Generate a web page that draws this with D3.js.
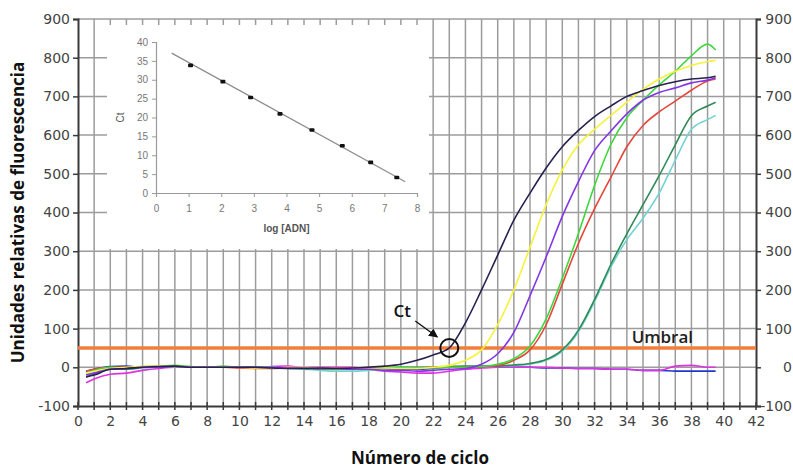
<!DOCTYPE html>
<html>
<head>
<meta charset="utf-8">
<script src="https://cdn.jsdelivr.net/npm/d3@7"></script>
<style>
  body { margin: 0; background: #fff; }
  svg { display: block; }
  text { font-family: "DejaVu Sans", Verdana, sans-serif; }
  .tick-label { font-size: 14px; fill: #444; }
  .title { font-family: "Open Sans", sans-serif; font-weight: bold; font-size: 17px; fill: #111; }
  .inset-label { font-family: Arial, "Liberation Sans", sans-serif; font-size: 10px; fill: #777; }
</style>
</head>
<body>
<div id="chart"></div>
<script>
// ciclos en los que se midio la fluorescencia
var cycles = [0.5, 1, 2, 3, 4, 5, 6, 7, 8, 9, 10, 11, 12, 13, 14, 15, 16, 17, 18, 19, 20,
  21, 22, 23, 24, 25, 26, 27, 28, 29, 30, 31, 32, 33, 34, 35, 36, 37, 38, 39, 39.5]

var navy = [-25, -20, -5, -3, 0, 2, 3, 0, 0, 0, 0, 0, -2, -3, -3, -2, -3, -2, 0, 3, 8,
  18, 32, 50, 115, 200, 290, 380, 450, 515, 570, 612, 648, 675, 700, 715, 728, 738, 745, 748, 752]
var yellow = [-15, -10, -3, 0, 2, 3, 2, 0, 0, 0, 0, -2, -2, 0, 0, -2, -3, -3, -2, -2, -3,
  -3, 0, 5, 18, 45, 110, 200, 310, 420, 510, 575, 615, 650, 685, 718, 745, 765, 780, 790, 793]
var purple = [-20, -15, -5, -3, 0, 0, 2, 0, 0, 0, 0, 0, 0, -2, -2, -3, -3, -5, -5, -8, -8,
  -10, -8, -5, -3, 8, 35, 90, 185, 285, 390, 480, 560, 610, 655, 690, 710, 722, 735, 742, 748]
var green = [-15, -8, 0, -2, 2, 3, 5, 2, 0, 3, 0, 0, 0, -2, -2, -3, -5, -3, -2, 0, 0,
  -2, -2, 0, 0, 2, 8, 22, 55, 125, 230, 346, 470, 575, 645, 690, 730, 765, 805, 835, 820]
var red = [-10, -5, 0, 0, 0, 2, 2, 0, 0, 0, -2, -3, -3, -2, -2, -3, -3, -2, 0, 0, -2,
  -2, 0, 0, 0, 2, 5, 18, 45, 110, 215, 320, 410, 490, 570, 625, 660, 688, 716, 740, 745]
var darkGreen = [-25, -18, -5, -5, 0, 2, 3, 0, 0, 0, 0, 0, -2, -2, -3, -5, -5, -5, -3, -2, 0,
  0, 0, 2, 3, 3, 3, 6, 10, 20, 45, 96, 175, 265, 345, 420, 495, 575, 650, 675, 685]
var cyan = [-20, -15, -3, -5, -2, 0, 0, 0, 0, 0, 0, 0, 0, -3, -5, -8, -10, -10, -8, -5, -3,
  -3, 0, 0, 2, 2, 3, 5, 8, 18, 42, 92, 170, 258, 330, 385, 450, 535, 615, 640, 651]
var blue = [-10, -5, 2, 3, 0, 0, 2, 0, 0, 0, 0, 0, 0, 0, -3, -5, -5, -5, -3, -5, -5,
  -5, -3, 0, 0, 0, 2, 0, 0, -2, -2, -3, -3, -5, -5, -8, -8, -10, -10, -10, -10]
var magenta = [-40, -30, -18, -15, -8, -3, 0, 0, 0, 0, 0, 0, 2, 3, 0, 0, 0, 0, -5, -10, -12,
  -15, -15, -10, -5, -2, 0, 0, 0, 0, -2, -3, -3, -5, -5, -8, -8, 3, 5, 0, 0]

var threshold = 50
var ctCycle = 23

// recuadro: curva estandar
var logDNA = [1.06, 2.05, 2.9, 3.8, 4.78, 5.71, 6.58, 7.38]
var ctValues = [33.8, 29.5, 25.3, 20.95, 16.7, 12.5, 8.1, 4.1]
var fitX = [0.48, 7.64]
var fitY = [37.05, 3.0]

var xTicks = [0, 2, 4, 6, 8, 10, 12, 14, 16, 18, 20, 22, 24, 26, 28, 30, 32, 34, 36, 38, 40, 42]
var yTicks = [-100, 0, 100, 200, 300, 400, 500, 600, 700, 800, 900]
var insetXTicks = [0, 1, 2, 3, 4, 5, 6, 7, 8]
var insetYTicks = [0, 5, 10, 15, 20, 25, 30, 35, 40]

var series = [
  {values: blue, color: '#2436d0'},
  {values: magenta, color: '#e032e0'},
  {values: cyan, color: '#72d2d0'},
  {values: darkGreen, color: '#2e8b57'},
  {values: red, color: '#e6463c'},
  {values: green, color: '#3ed83e'},
  {values: yellow, color: '#f6f23a'},
  {values: purple, color: '#8236e6'},
  {values: navy, color: '#2a2050'}
]

var width = 793, height = 469
var svg = d3.select('#chart').append('svg').attr('width', width).attr('height', height)

var x = d3.scaleLinear().domain([0, 42]).range([78, 756])
var y = d3.scaleLinear().domain([-100, 900]).range([406, 19])
var plain = d => String(d)

// rejilla
var grid = svg.append('g')
grid.selectAll('line.v').data(d3.range(1, 42)).join('line')
  .attr('x1', d => x(d)).attr('x2', d => x(d))
  .attr('y1', y(900)).attr('y2', y(-100))
  .attr('stroke', '#9c9c9c').attr('stroke-width', 1.5)
grid.selectAll('line.h').data(yTicks.slice(1)).join('line')
  .attr('x1', x(0)).attr('x2', x(42))
  .attr('y1', d => y(d)).attr('y2', d => y(d))
  .attr('stroke', '#9c9c9c').attr('stroke-width', 1.5)

// ejes
var axisColor = '#3a3a3a'
var left = svg.append('g').attr('transform', 'translate(' + x(0) + ',0)')
  .call(d3.axisLeft(y).tickValues(yTicks).tickFormat(plain).tickSize(5).tickPadding(3))
var right = svg.append('g').attr('transform', 'translate(' + x(42) + ',0)')
  .call(d3.axisRight(y).tickValues(yTicks).tickFormat(plain).tickSize(5).tickPadding(4))
var bottom = svg.append('g').attr('transform', 'translate(0,' + y(-100) + ')')
  .call(d3.axisBottom(x).tickValues(xTicks).tickFormat(plain).tickSize(0).tickPadding(10))
bottom.selectAll('.minor').data(d3.range(0, 43)).join('line')
  .attr('class', 'minor')
  .attr('x1', d => x(d)).attr('x2', d => x(d))
  .attr('y1', -4).attr('y2', 4)
  .attr('stroke', axisColor).attr('stroke-width', 1.5)

;[left, right, bottom].forEach(function(g){
  g.select('.domain').attr('stroke', axisColor).attr('stroke-width', 2)
  g.selectAll('.tick line').attr('stroke', axisColor).attr('stroke-width', 1.5)
  g.selectAll('.tick text').attr('class', 'tick-label')
  g.attr('font-size', null).attr('font-family', null)
})
// etiquetas derechas alineadas al borde
right.selectAll('.tick text').attr('text-anchor', 'end').attr('x', width - 1 - x(42))

// curvas de amplificacion
var line = d3.line()
  .x((d, i) => x(cycles[i]))
  .y(d => y(d))
  .curve(d3.curveMonotoneX)

svg.append('line')
  .attr('x1', x(0)).attr('x2', x(42))
  .attr('y1', y(threshold)).attr('y2', y(threshold))
  .attr('stroke', '#f07f3c').attr('stroke-width', 3.5)

svg.append('g').selectAll('path').data(series).join('path')
  .attr('d', d => line(d.values))
  .attr('fill', 'none')
  .attr('stroke', d => d.color)
  .attr('stroke-width', 1.6)

// Ct
svg.append('circle')
  .attr('cx', x(ctCycle)).attr('cy', y(threshold)).attr('r', 9)
  .attr('fill', 'none').attr('stroke', '#111').attr('stroke-width', 2)

svg.append('defs').append('marker')
  .attr('id', 'arrow').attr('viewBox', '0 0 10 10')
  .attr('refX', 9).attr('refY', 5)
  .attr('markerWidth', 7).attr('markerHeight', 7)
  .attr('orient', 'auto-start-reverse')
  .append('path').attr('d', 'M0,0L10,5L0,10z').attr('fill', '#111')

svg.append('line')
  .attr('x1', x(ctCycle) - 34).attr('y1', y(threshold) - 27)
  .attr('x2', x(ctCycle) - 12).attr('y2', y(threshold) - 11)
  .attr('stroke', '#111').attr('stroke-width', 1.3)
  .attr('marker-end', 'url(#arrow)')

svg.append('text')
  .attr('x', x(ctCycle) - 47).attr('y', y(threshold) - 31)
  .attr('text-anchor', 'middle')
  .style('font-family', 'Open Sans, sans-serif').style('font-size', '17px')
  .style('font-weight', 600).style('fill', '#111')
  .text('Ct')

svg.append('text')
  .attr('x', x(36.2)).attr('y', y(threshold) - 5)
  .attr('text-anchor', 'middle')
  .style('font-family', 'Open Sans, sans-serif').style('font-size', '17px')
  .style('font-weight', 600).style('fill', '#222')
  .text('Umbral')

// titulos
svg.append('text')
  .attr('class', 'title')
  .attr('transform', 'translate(24,' + y(400) + ') rotate(-90)')
  .attr('text-anchor', 'middle')
  .text('Unidades relativas de fluorescencia')

svg.append('text')
  .attr('class', 'title')
  .attr('x', 420).attr('y', 464)
  .attr('text-anchor', 'middle')
  .text('Número de ciclo')

// recuadro con la curva estandar
svg.append('rect')
  .attr('x', 107).attr('y', 25).attr('width', 322).attr('height', 224)
  .attr('fill', '#fff')

var ix = d3.scaleLinear().domain([0, 8]).range([156, 417])
var iy = d3.scaleLinear().domain([0, 40]).range([193, 42])
var inset = svg.append('g')

var ixAxis = inset.append('g').attr('transform', 'translate(0,' + iy(0) + ')')
  .call(d3.axisBottom(ix).tickValues(insetXTicks).tickSize(4).tickPadding(8))
var iyAxis = inset.append('g').attr('transform', 'translate(' + ix(0) + ',0)')
  .call(d3.axisLeft(iy).tickValues(insetYTicks).tickSize(4).tickPadding(4))

;[ixAxis, iyAxis].forEach(function(g){
  g.attr('font-size', null).attr('font-family', null)
  g.select('.domain').attr('stroke', '#9a9a9a').attr('stroke-width', 1.2)
  g.selectAll('.tick line').attr('stroke', '#9a9a9a')
  g.selectAll('.tick text').attr('class', 'inset-label')
})

inset.append('line')
  .attr('x1', ix(fitX[0])).attr('y1', iy(fitY[0]))
  .attr('x2', ix(fitX[1])).attr('y2', iy(fitY[1]))
  .attr('stroke', '#8c8c8c').attr('stroke-width', 1.2)

inset.selectAll('rect.pt').data(logDNA).join('rect')
  .attr('class', 'pt')
  .attr('x', d => ix(d) - 2.5).attr('y', (d, i) => iy(ctValues[i]) - 1.8)
  .attr('width', 5).attr('height', 3.6).attr('rx', 1)
  .attr('fill', '#111')

inset.append('text')
  .attr('class', 'inset-label')
  .attr('x', ix(4)).attr('y', 232)
  .attr('text-anchor', 'middle')
  .style('font-weight', 'bold').style('fill', '#555')
  .text('log [ADN]')

inset.append('text')
  .attr('class', 'inset-label')
  .attr('transform', 'translate(124,' + iy(20) + ') rotate(-90)')
  .attr('text-anchor', 'middle')
  .style('fill', '#555')
  .text('Ct')
</script>
</body>
</html>
